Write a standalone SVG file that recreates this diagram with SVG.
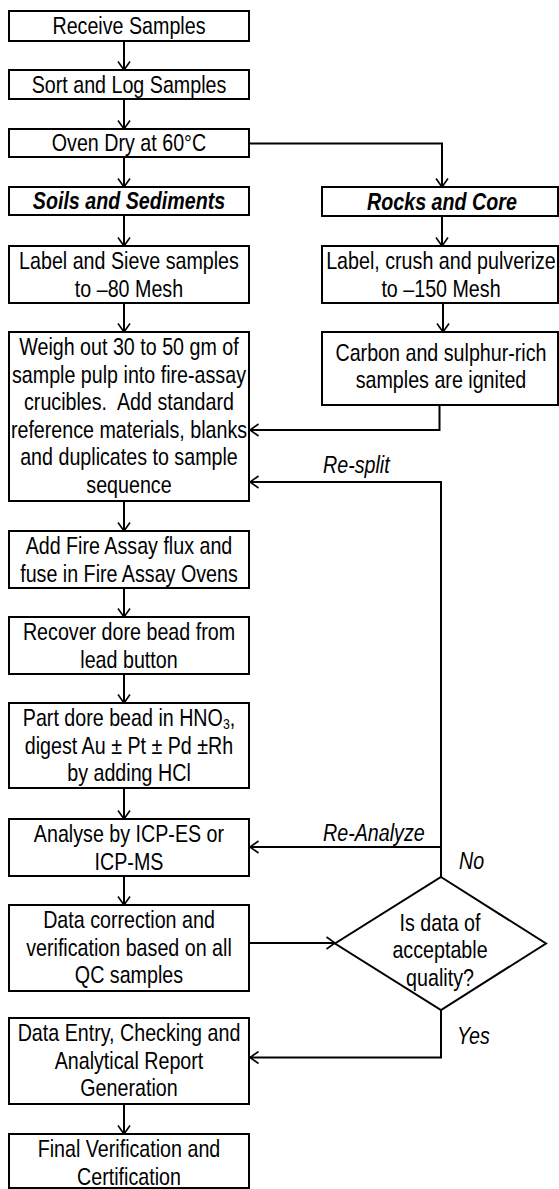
<svg xmlns="http://www.w3.org/2000/svg" width="559" height="1189" viewBox="0 0 559 1189">
<style>
.box{fill:#fff;stroke:#000;stroke-width:2}
.t{font-family:"Liberation Sans",Arial,sans-serif;font-size:24px;fill:#000;text-anchor:middle}
.bi{font-weight:bold;font-style:italic}
.lab{font-family:"Liberation Sans",Arial,sans-serif;font-size:24px;font-style:italic;fill:#000}
.c{fill:none;stroke:#000;stroke-width:2}
</style>
<defs>
<marker id="ah" viewBox="0 0 10 14" refX="9.5" refY="7" markerWidth="10" markerHeight="14" markerUnits="userSpaceOnUse" orient="auto">
<path d="M1,1 L9.5,7 L1,13" fill="none" stroke="#000" stroke-width="1.6"/>
</marker>
</defs>
<g id="connectors" class="c">
<path d="M124,41 V70" marker-end="url(#ah)"/>
<path d="M124,99 V129" marker-end="url(#ah)"/>
<path d="M124,157 V187" marker-end="url(#ah)"/>
<path d="M249,143.5 H442 V187" marker-end="url(#ah)"/>
<path d="M124,215 V246" marker-end="url(#ah)"/>
<path d="M442,216 V246" marker-end="url(#ah)"/>
<path d="M124,303 V332" marker-end="url(#ah)"/>
<path d="M443,303 V332" marker-end="url(#ah)"/>
<path d="M439.5,405 V430 H250" marker-end="url(#ah)"/>
<path d="M124,501 V531" marker-end="url(#ah)"/>
<path d="M124,588 V617" marker-end="url(#ah)"/>
<path d="M124,674 V703" marker-end="url(#ah)"/>
<path d="M124,788 V819" marker-end="url(#ah)"/>
<path d="M124,876 V905" marker-end="url(#ah)"/>
<path d="M249,943 H335" marker-end="url(#ah)"/>
<path d="M441,878 V482 H250" marker-end="url(#ah)"/>
<path d="M441,847 H250" marker-end="url(#ah)"/>
<path d="M441,1010 V1057.5 H250" marker-end="url(#ah)"/>
<path d="M124,1104 V1134" marker-end="url(#ah)"/>
</g>
<g id="receive"><rect class="box" x="9" y="11" width="240" height="30"/><text class="t" transform="scale(0.82,1)" x="157.3" y="34.5">Receive Samples</text></g>
<g id="sort"><rect class="box" x="9" y="70" width="240" height="29"/><text class="t" transform="scale(0.82,1)" x="157.3" y="93">Sort and Log Samples</text></g>
<g id="oven"><rect class="box" x="9" y="129" width="240" height="28"/><text class="t" transform="scale(0.82,1)" x="157.3" y="151.5">Oven Dry at 60°C</text></g>
<g id="soils"><rect class="box" x="9" y="187" width="240" height="28"/><text class="t bi" transform="scale(0.82,1)" x="157.3" y="209.5">Soils and Sediments</text></g>
<g id="rocks"><rect class="box" x="322" y="187" width="236" height="29"/><text class="t bi" transform="scale(0.82,1)" x="539" y="210">Rocks and Core</text></g>
<g id="sieve"><rect class="box" x="9" y="246" width="240" height="57"/><text class="t" transform="scale(0.82,1)" x="157.3" y="269.5">Label and Sieve samples</text><text class="t" transform="scale(0.82,1)" x="157.3" y="297">to –80 Mesh</text></g>
<g id="crush"><rect class="box" x="322" y="246" width="236" height="57"/><text class="t" transform="scale(0.82,1)" x="537.8" y="269.5">Label, crush and pulverize</text><text class="t" transform="scale(0.82,1)" x="537.8" y="297">to –150 Mesh</text></g>
<g id="weigh"><rect class="box" x="9" y="332" width="240" height="169"/>
<text class="t" transform="scale(0.82,1)" x="157.3" y="355.5">Weigh out 30 to 50 gm of</text>
<text class="t" transform="scale(0.82,1)" x="157.3" y="383">sample pulp into fire-assay</text>
<text class="t" transform="scale(0.82,1)" x="157.3" y="410.5">crucibles.&#160; Add standard</text>
<text class="t" transform="scale(0.82,1)" x="157.3" y="438">reference materials, blanks</text>
<text class="t" transform="scale(0.82,1)" x="157.3" y="465.5">and duplicates to sample</text>
<text class="t" transform="scale(0.82,1)" x="157.3" y="493">sequence</text></g>
<g id="carbon"><rect class="box" x="322" y="332" width="236" height="73"/><text class="t" transform="scale(0.82,1)" x="537.8" y="361">Carbon and sulphur-rich</text><text class="t" transform="scale(0.82,1)" x="537.8" y="388.5">samples are ignited</text></g>
<g id="fuse"><rect class="box" x="9" y="531" width="240" height="57"/><text class="t" transform="scale(0.82,1)" x="157.3" y="554.5">Add Fire Assay flux and</text><text class="t" transform="scale(0.82,1)" x="157.3" y="582">fuse in Fire Assay Ovens</text></g>
<g id="recover"><rect class="box" x="9" y="617" width="240" height="57"/><text class="t" transform="scale(0.82,1)" x="157.3" y="640.5">Recover dore bead from</text><text class="t" transform="scale(0.82,1)" x="157.3" y="668">lead button</text></g>
<g id="part"><rect class="box" x="9" y="703" width="240" height="85"/>
<text class="t" transform="scale(0.82,1)" x="157.3" y="726.5">Part dore bead in HNO<tspan font-size="15" dy="3">3</tspan><tspan dy="-3">,</tspan></text>
<text class="t" transform="scale(0.82,1)" x="157.3" y="754">digest Au ± Pt ± Pd ±Rh</text>
<text class="t" transform="scale(0.82,1)" x="157.3" y="781.5">by adding HCl</text></g>
<g id="analyse"><rect class="box" x="9" y="819" width="240" height="57"/><text class="t" transform="scale(0.82,1)" x="157.3" y="842.5">Analyse by ICP-ES or</text><text class="t" transform="scale(0.82,1)" x="157.3" y="870">ICP-MS</text></g>
<g id="correction"><rect class="box" x="9" y="905" width="240" height="86"/>
<text class="t" transform="scale(0.82,1)" x="157.3" y="928.5">Data correction and</text>
<text class="t" transform="scale(0.82,1)" x="157.3" y="956">verification based on all</text>
<text class="t" transform="scale(0.82,1)" x="157.3" y="983.5">QC samples</text></g>
<g id="decision"><polygon class="box" points="441,877 546,943.5 441,1010 335,943.5"/>
<text class="t" transform="scale(0.82,1)" x="536.6" y="931">Is data of</text>
<text class="t" transform="scale(0.82,1)" x="536.6" y="958.5">acceptable</text>
<text class="t" transform="scale(0.82,1)" x="536.6" y="986">quality?</text></g>
<g id="entry"><rect class="box" x="9" y="1018" width="240" height="86"/>
<text class="t" transform="scale(0.82,1)" x="157.3" y="1041.5">Data Entry, Checking and</text>
<text class="t" transform="scale(0.82,1)" x="157.3" y="1069">Analytical Report</text>
<text class="t" transform="scale(0.82,1)" x="157.3" y="1096.5">Generation</text></g>
<g id="final"><rect class="box" x="9" y="1134" width="240" height="54"/>
<text class="t" transform="scale(0.82,1)" x="157.3" y="1157.5">Final Verification and</text>
<text class="t" transform="scale(0.82,1)" x="157.3" y="1185">Certification</text></g>
<g id="labels">
<text class="lab" transform="scale(0.82,1)" x="393.9" y="473">Re-split</text>
<text class="lab" transform="scale(0.82,1)" x="393.9" y="841">Re-Analyze</text>
<text class="lab" transform="scale(0.82,1)" x="559.8" y="869">No</text>
<text class="lab" transform="scale(0.82,1)" x="557.3" y="1044">Yes</text>
</g>
</svg>
